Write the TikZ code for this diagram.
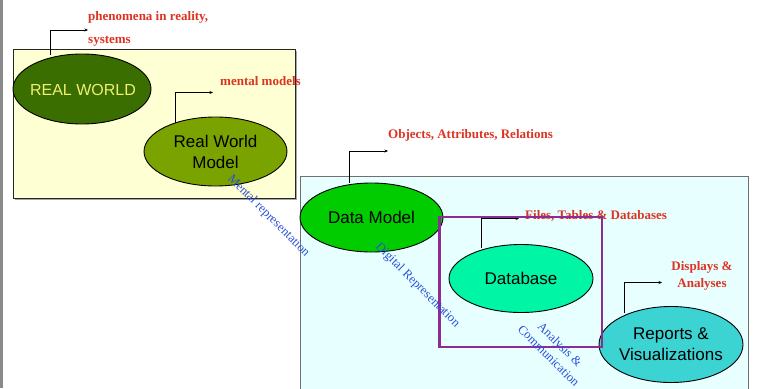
\documentclass[tikz,border=0pt]{standalone}
\usepackage{fontspec}
\setmainfont{Liberation Serif}
\newfontfamily\sansf{Liberation Sans}
\usetikzlibrary{shapes.geometric,arrows.meta}
\definecolor{leftbar}{HTML}{8A8A8A}
\definecolor{yellowbg}{HTML}{FFFFD4}
\definecolor{cyanbg}{HTML}{E8FFFF}
\definecolor{cyanborder}{HTML}{707070}
\definecolor{rwfill}{HTML}{3B6E00}
\definecolor{rwtext}{HTML}{EEF070}
\definecolor{rwmfill}{HTML}{7AA300}
\definecolor{dmfill}{HTML}{00CC00}
\definecolor{dbfill}{HTML}{00F5A5}
\definecolor{repfill}{HTML}{3CD3D3}
\definecolor{redlab}{HTML}{DD3322}
\definecolor{bluelab}{HTML}{2A4FD8}
\definecolor{purpleline}{HTML}{8E2C96}
\tikzset{
  elli/.style={ellipse, draw=black, line width=0.9pt, inner sep=0pt},
  etext/.style={font=\sansf\fontsize{17}{21}\selectfont, align=center, inner sep=0pt},
  redtext/.style={font=\bfseries\fontsize{13}{17}\selectfont, text=redlab, inner sep=0pt},
  bluetext/.style={font=\fontsize{12.6}{16}\selectfont, text=bluelab, inner sep=0pt, rotate=-45, align=center},
  callout/.style={draw=black, line width=0.8pt, -{Stealth[length=3.5pt,width=3pt]}}
}
\begin{document}
\begin{tikzpicture}[x=1pt,y=-1pt]
\useasboundingbox (0,0) rectangle (757,388);
\fill[white] (0,0) rectangle (757,388);
% left gray bar
\fill[leftbar] (0,0) rectangle (2.5,388);
% yellow box with faint shadow
\fill[black!35] (14.5,50.5) rectangle (296.5,199.5);
\draw[fill=yellowbg, draw=black!85, line width=0.9pt] (13,49) rectangle (295,198);
% cyan box
\draw[fill=cyanbg, draw=cyanborder, line width=1pt] (300,176) rectangle (748,395);

% ellipses
\node[elli, fill=rwfill, minimum width=138pt, minimum height=70pt] (rw) at (82,89) {};
\node[etext, text=rwtext, font=\sansf\fontsize{16}{21}\selectfont] (rwt) at (83,89.5) {REAL WORLD};
\node[elli, fill=rwmfill, minimum width=143pt, minimum height=69pt] (rwm) at (215.5,151.5) {};
\node[etext] (rwmt) at (rwm.center) {Real World\\Model};
\node[elli, fill=dmfill, minimum width=143pt, minimum height=69pt] (dm) at (371.5,217.5) {};
\node[etext] (dmt) at (dm.center) {Data Model};
\node[elli, fill=dbfill, minimum width=144pt, minimum height=68pt] (db) at (521,278.5) {};
\node[etext] (dbt) at (db.center) {Database};
\node[elli, fill=repfill, minimum width=144pt, minimum height=76pt] (rep) at (671,344.5) {};
\node[etext] (rept) at (rep.center) {Reports \&\\Visualizations};

% callouts
\coordinate (c1a) at (50,55);  \coordinate (c1b) at (88,30);
\coordinate (c2a) at (175,123); \coordinate (c2b) at (213,92.5);
\coordinate (c3a) at (349,183); \coordinate (c3b) at (388,151);
\coordinate (c4a) at (481,248); \coordinate (c4b) at (519,218.5);
\coordinate (c5a) at (624,313); \coordinate (c5b) at (662,282.5);
\draw[callout] (c1a) |- (c1b);
\draw[callout] (c2a) |- (c2b);
\draw[callout] (c3a) |- (c3b);
\draw[callout] (c4a) |- (c4b);
\draw[callout] (c5a) |- (c5b);

% red labels
\node[redtext, anchor=west] (l1) at (88,17) {phenomena in reality,};
\node[redtext, anchor=west] (l1b) at (88,41.5) {systems};
\node[redtext, anchor=west] (l2) at (220,81) {mental models};
\node[redtext, anchor=west] (l3) at (388,135) {Objects, Attributes, Relations};
\node[redtext, anchor=west] (l4) at (525,216) {Files, Tables \& Databases};
\node[redtext, align=center] (l5) at (702,275.5) {Displays \&\\Analyses};

% purple rectangle
\draw[purpleline, line width=2.2pt] (439.5,217) rectangle (602,347);

% blue rotated labels
\node[bluetext] (b1) at (268.5,216) {Mental representation};
\node[bluetext] (b2) at (417.5,285.5) {Digital Representation};
\node[bluetext] (b3) at (554.5,350) {Analysis \&\\Communication};
\end{tikzpicture}
\end{document}
